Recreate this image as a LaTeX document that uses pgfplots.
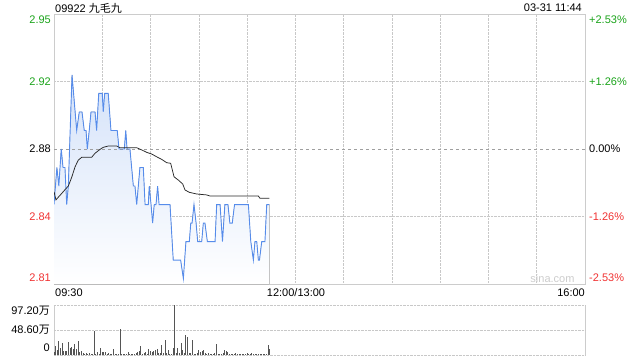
\documentclass[border=0pt]{standalone}
\usepackage{pgfplots}
\pgfplotsset{compat=1.18}
\usepackage{pgfplotstable}
\usepgfplotslibrary{fillbetween}
\usepackage{fontspec}
\setmainfont{Liberation Sans}
\newfontfamily\cjk{Noto Sans CJK SC}
\definecolor{gridc}{RGB}{200,200,200}
\definecolor{framec}{RGB}{204,204,204}
\definecolor{upg}{RGB}{26,163,26}
\definecolor{dnr}{RGB}{240,50,50}
\definecolor{lineb}{RGB}{86,140,235}
\definecolor{fillb}{RGB}{212,226,249}
\definecolor{avgc}{RGB}{40,40,40}
\definecolor{volc}{RGB}{85,85,85}

\pgfplotstableread{
m p
0 2.85
1.8 2.87
3.0 2.86
4.5 2.88
5.6 2.87
6.8 2.87
7.9 2.85
8.9 2.86
11.2 2.92
14.1 2.89
15.7 2.90
17.4 2.90
18.8 2.89
19.9 2.89
20.7 2.88
21.9 2.89
23.0 2.90
25.5 2.90
26.5 2.89
27.8 2.91
30.0 2.91
30.6 2.90
31.5 2.91
33.7 2.91
35.4 2.89
39.3 2.89
40.4 2.88
43.7 2.88
44.6 2.89
45.4 2.88
47.2 2.88
49.3 2.86
50.3 2.86
51.4 2.85
53.4 2.87
55.5 2.87
56.6 2.85
58.6 2.85
59.2 2.86
60.3 2.85
61.3 2.84
62.3 2.85
63.4 2.85
64.4 2.86
65.3 2.85
72.1 2.85
74.1 2.82
78.7 2.82
80.4 2.81
82.0 2.83
84.1 2.83
85.0 2.84
85.8 2.84
87.0 2.85
88.3 2.84
89.3 2.83
91.8 2.83
92.8 2.84
93.8 2.84
95.3 2.83
100.1 2.83
101.1 2.85
103.2 2.85
104.7 2.83
106.2 2.85
108.1 2.85
109.3 2.84
110.8 2.84
112.2 2.85
120.8 2.85
122.3 2.83
123.9 2.82
124.9 2.83
126.0 2.83
127.0 2.82
127.7 2.82
129.1 2.83
131.1 2.83
132.2 2.85
133.8 2.85
}\pricetable

\pgfplotstableread{
m a
0 2.857
1.2 2.8525
2.7 2.854
4.8 2.856
6.8 2.858
8.9 2.860
11.0 2.8647
13.1 2.8704
15.1 2.874
17.2 2.8755
23.4 2.8755
25.5 2.8777
28.6 2.8798
30.6 2.8809
33.7 2.8816
39.0 2.8816
41.0 2.8807
51.4 2.8807
54.5 2.8795
57.6 2.8782
60.7 2.8773
63.8 2.8758
66.9 2.8744
70.0 2.8726
72.5 2.8723
74.6 2.8650
77.3 2.8632
80.0 2.8611
81.4 2.8579
84.1 2.8566
88.7 2.8557
94.9 2.8552
97.0 2.8546
127.0 2.8546
128.0 2.8534
133.8 2.8534
}\avgtable

\pgfplotstableread{
m v
0 6.0
1 17.5
2 9.7
3 27.2
4 13
5 22.7
6 7.8
7 7.8
8 8.4
9 25.3
10 13
11 16.2
12 11.7
13 20.7
14 11
15 27.2
16 6.5
17 8.4
18 3.2
19 1.9
20 4.5
21 1.3
22 3.2
23 1.3
24 1.9
25 46.7
26 1.9
27 5.2
28 1.3
29 13
30 5.2
31 5.8
32 5.2
33 1.3
34 3.2
35 1.3
36 1.3
37 11
38 1.9
39 1.9
40 1.3
41 49.9
42 1.3
43 1.9
44 1.3
45 1.3
46 5.2
47 1.3
48 1.9
49 1.3
50 1.3
51 4.5
52 5.2
53 7.1
54 17.5
55 1.9
56 3.2
57 5.2
58 1.3
59 11
60 8.4
61 6.5
62 8.4
63 9.7
64 11
65 4.5
66 3.2
67 19.4
68 3.2
69 29.2
70 3.2
71 9.7
72 1.3
73 1.9
74 13
75 97.2
76 3.2
77 13
78 4.5
79 22.7
80 9.7
81 3.2
82 38.9
83 35.6
84 4.5
85 3.2
86 29.2
87 1.3
88 1.3
89 3.2
90 9.7
91 6.5
92 7.8
93 9.1
94 3.2
95 1.3
96 3.2
97 1.3
98 1.9
99 1.3
100 3.2
101 21.4
102 1.3
103 1.9
104 1.3
105 3.2
106 9.7
107 7.8
108 6.5
109 1.9
110 1.9
111 1.9
112 1.3
113 3.2
114 1.9
115 1.9
116 1.3
117 1.3
118 1.3
119 1.9
120 3.2
121 1.9
122 1.3
123 4.5
124 1.9
125 1.3
126 1.3
127 1.3
128 1.3
129 1.9
130 1.9
131 1.3
132 1.3
133 19.4
134 11
}\voltable

\begin{document}
\begin{tikzpicture}[x=1pt,y=1pt,font=\fontsize{11}{13}\selectfont]
% main price axis
\begin{axis}[
  at={(54pt,76pt)}, anchor=south west, scale only axis,
  width=531pt, height=270pt,
  xmin=0, xmax=330, ymin=2.8071, ymax=2.9529,
  axis line style={framec},
  xtick={0,30,...,330}, xticklabels={,,,,,,,,,,,}, xmajorgrids,
  ytick={2.8103,2.8436,2.88,2.9164,2.9496},
  yticklabels={\textcolor{dnr}{2.81},\textcolor{dnr}{2.84},2.88,\textcolor{upg}{2.92},\textcolor{upg}{2.95}},
  extra y ticks={2.8436,2.9164}, extra y tick labels={},
  extra y tick style={grid=major},
  major tick length=0pt,
  grid style={gridc, densely dotted, line width=0.6pt},
  yticklabel style={inner sep=0pt, anchor=east, xshift=-3pt},
]
\addplot[name path=price, draw=none, forget plot] table[x=m,y=p]{\pricetable};
\addplot[name path=base, draw=none, forget plot] coordinates {(0,2.8071) (133.8,2.8071)};
\addplot[top color=fillb, bottom color=white, draw=none] fill between[of=price and base];
\draw[gray!75, dashed, line width=0.6pt] (axis cs:0,2.88) -- (axis cs:330,2.88);
\addplot[lineb, line width=0.9pt] table[x=m,y=p]{\pricetable};
\addplot[avgc, line width=0.75pt] table[x=m,y=a]{\avgtable};
\end{axis}
% right percent axis
\begin{axis}[
  at={(54pt,76pt)}, anchor=south west, scale only axis,
  width=531pt, height=270pt,
  xmin=0, xmax=330, ymin=2.8071, ymax=2.9529,
  hide x axis, axis y line*=right,
  y axis line style={framec},
  ytick={2.8103,2.8436,2.88,2.9164,2.9496},
  yticklabels={\textcolor{dnr}{-2.53\%},\textcolor{dnr}{-1.26\%},0.00\%,\textcolor{upg}{+1.26\%},\textcolor{upg}{+2.53\%}},
  major tick length=0pt,
  yticklabel style={inner sep=0pt, anchor=west, xshift=4pt},
]
\addplot[draw=none] coordinates {(0,2.88) (330,2.88)};
\end{axis}
% volume axis
\begin{axis}[
  at={(54pt,5pt)}, anchor=south west, scale only axis,
  width=531pt, height=50pt,
  xmin=0, xmax=330, ymin=0, ymax=97.2,
  separate axis lines,
  x axis line style={draw=none},
  y axis line style={framec},
  xtick=\empty,
  ytick={13.6,49.6,85.5},
  yticklabels={0,48.60{\cjk 万},97.20{\cjk 万}},
  extra y ticks={0,48.6,97.2}, extra y tick labels={},
  extra y tick style={grid=major},
  grid style={gridc, densely dotted, line width=0.6pt},
  major tick length=0pt,
  yticklabel style={inner sep=0pt, anchor=east, xshift=-4pt},
]
\addplot[ycomb, volc, line width=0.9pt] table[x=m,y=v]{\voltable};
\end{axis}
% texts
\node[anchor=base west, inner sep=0pt] at (55,348) {09922 {\cjk 九毛九}};
\node[anchor=base east, inner sep=0pt] at (582,349) {03-31 11:44};
\node[anchor=base west, inner sep=0pt] at (55,63.5) {09:30};
\node[anchor=base, inner sep=0pt] at (296,63.5) {12:00/13:00};
\node[anchor=base east, inner sep=0pt] at (585,63.5) {16:00};
\node[anchor=center, inner sep=0pt, text=gray!40] at (552.5,81) {sina.com};
\path (0,0) rectangle (640,360);
\end{tikzpicture}
\end{document}
